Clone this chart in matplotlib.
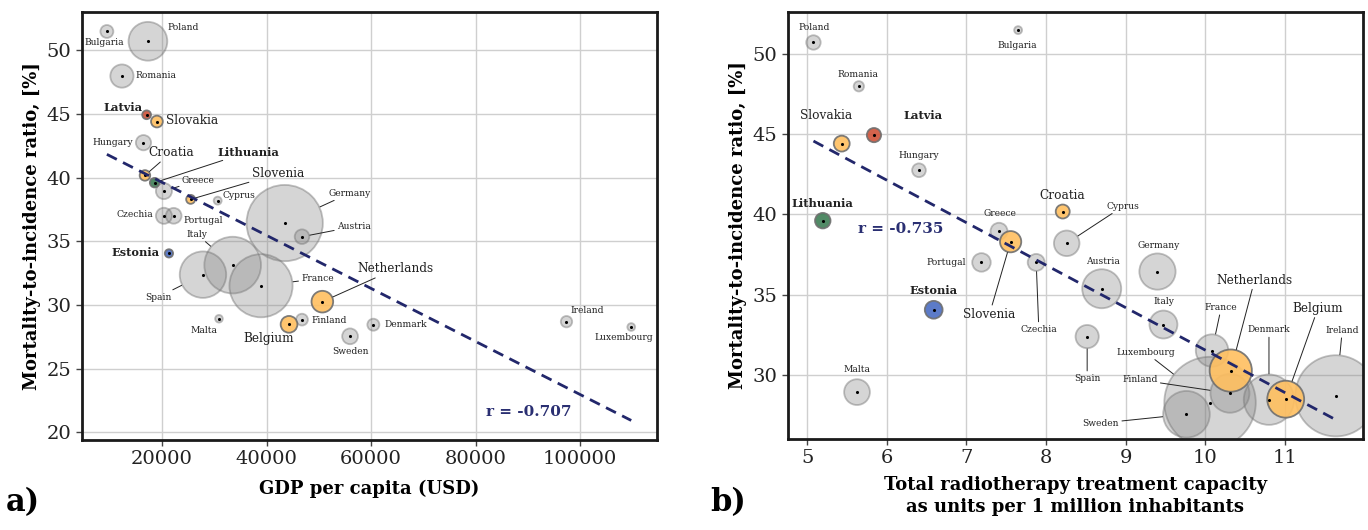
import numpy as np
import matplotlib.pyplot as plt

plt.rcParams['font.family'] = 'DejaVu Serif'

countries = ['Bulgaria', 'Poland', 'Romania', 'Latvia', 'Slovakia', 'Hungary', 'Croatia',
             'Lithuania', 'Greece', 'Slovenia', 'Cyprus', 'Czechia', 'Portugal', 'Germany',
             'Austria', 'Estonia', 'Italy', 'Spain', 'France', 'Netherlands', 'Malta',
             'Belgium', 'Finland', 'Denmark', 'Sweden', 'Ireland', 'Luxembourg']
gdp = [9470, 17320, 12350, 17070, 19040, 16470, 16750, 18600, 20380, 25490, 30660, 20380,
       22240, 43480, 46790, 21340, 33530, 27850, 38950, 50680, 30910, 44310, 46790, 60440,
       55980, 97380, 109760]
mir = [51.47, 50.7, 47.97, 44.93, 44.4, 42.74, 40.17, 39.6, 38.94, 38.29, 38.19, 37.0, 37.0,
       36.43, 35.36, 34.05, 33.13, 32.38, 31.51, 30.26, 28.92, 28.48, 28.85, 28.45, 27.54,
       28.69, 28.27]
rt_units = [7.65, 5.08, 5.65, 5.84, 5.435, 6.405, 8.21, 5.197, 7.41, 7.556, 8.26, 7.877, 7.19,
            9.40, 8.70, 6.59, 9.475, 8.517, 10.085, 10.32, 5.627, 11.01, 10.31, 10.80, 9.764,
            11.64, 10.06]
population = [6.9, 38.0, 19.3, 1.9, 5.5, 9.7, 4.0, 2.8, 10.7, 2.1, 0.9, 10.7, 10.3, 83.2, 8.9,
              1.3, 59.6, 47.3, 67.4, 17.4, 0.5, 11.5, 5.5, 5.8, 10.3, 5.0, 0.63]
r_values = ['r = -0.707', 'r = -0.735']

highlight = {'Latvia': '#cf5238', 'Lithuania': '#3e7d55', 'Estonia': '#4a6dc2',
             'Slovakia': '#ffbf5f', 'Croatia': '#ffbf5f', 'Slovenia': '#ffbf5f',
             'Netherlands': '#ffbf5f', 'Belgium': '#ffbf5f'}
baltic = ['Latvia', 'Lithuania', 'Estonia']

# label placement: country -> (x, y, leader line)
labels_a = {
    'Bulgaria': (9030, 50.61, False), 'Poland': (24080, 51.77, False),
    'Romania': (18810, 48.0, False), 'Latvia': (12470, 45.53, False),
    'Slovakia': (25780, 44.49, False), 'Hungary': (10620, 42.79, False),
    'Croatia': (21720, 41.95, True), 'Lithuania': (36460, 42.0, True),
    'Greece': (26950, 39.78, True), 'Slovenia': (42170, 40.3, True),
    'Cyprus': (34800, 38.6, False), 'Czechia': (14770, 37.11, False),
    'Portugal': (27980, 36.62, False), 'Germany': (55980, 38.78, True),
    'Austria': (56710, 36.15, True), 'Italy': (26700, 35.54, True),
    'Estonia': (14870, 34.15, False), 'Spain': (19300, 30.62, True),
    'France': (49760, 32.06, True), 'Netherlands': (64750, 32.85, True),
    'Malta': (28070, 27.98, False), 'Belgium': (40480, 27.35, False),
    'Finland': (52060, 28.79, False), 'Denmark': (66670, 28.48, False),
    'Sweden': (55980, 26.33, False), 'Ireland': (101280, 29.58, False),
    'Luxembourg': (108290, 27.43, False),
}
labels_b = {
    'Poland': (5.09, 51.62, False), 'Bulgaria': (7.64, 50.50, False),
    'Romania': (5.64, 48.73, False), 'Slovakia': (5.24, 46.16, False),
    'Latvia': (6.45, 46.16, False), 'Hungary': (6.405, 43.66, False),
    'Lithuania': (5.197, 40.67, False), 'Greece': (7.42, 40.05, False),
    'Portugal': (6.753, 37.0, False), 'Estonia': (6.585, 35.24, False),
    'Slovenia': (7.29, 33.77, True), 'Czechia': (7.91, 32.85, True),
    'Malta': (5.63, 30.31, False), 'Croatia': (8.21, 41.19, False),
    'Cyprus': (8.97, 40.5, True), 'Germany': (9.42, 38.08, False),
    'Austria': (8.72, 37.08, False), 'Italy': (9.475, 34.55, False),
    'Spain': (8.517, 29.79, True), 'France': (10.20, 34.18, True),
    'Netherlands': (10.62, 35.90, True), 'Denmark': (10.80, 32.79, True),
    'Belgium': (11.415, 34.14, True), 'Ireland': (11.72, 32.75, True),
    'Luxembourg': (9.25, 31.4, True), 'Finland': (9.18, 29.68, True),
    'Sweden': (8.69, 26.99, True),
}

fig = plt.figure(figsize=(13.68, 5.30), dpi=100)
ax1 = fig.add_axes([0.0599, 0.1698, 0.4204, 0.8076])
ax2 = fig.add_axes([0.576, 0.1717, 0.4203, 0.8057])

px2pt = 72 / 100
rad_a = (3.6 + 0.415 * np.array(population)) * px2pt
rad_b = np.array(gdp) / 2400 * px2pt


def bubbles(ax, x, y, rad, lab, r_txt, r_pos):
    x = np.array(x, dtype=float)
    y = np.array(y, dtype=float)
    is_hl = np.array([c in highlight for c in countries])
    ax.scatter(x[~is_hl], y[~is_hl], s=(2 * rad[~is_hl]) ** 2,
               facecolors=(0.5, 0.5, 0.5, 0.33), edgecolors=(0.45, 0.45, 0.45, 0.45),
               linewidths=1.3, zorder=2)
    cols = [highlight[c] for c in countries if c in highlight]
    ax.scatter(x[is_hl], y[is_hl], s=(2 * rad[is_hl]) ** 2, c=cols, alpha=0.9,
               edgecolors='#6f6f6f', linewidths=1.3, zorder=3)
    ax.scatter(x, y, s=1.5, c='black', zorder=4)

    for i, c in enumerate(countries):
        tx, ty, leader = lab[c]
        if c in baltic:
            kw = dict(fontsize=8.2, fontweight='bold')
        elif c in highlight:
            kw = dict(fontsize=8.7)
        else:
            kw = dict(fontsize=6.6)
        if leader:
            ax.annotate(c, xy=(x[i], y[i]), xytext=(tx, ty), ha='center', va='center',
                        color='#222222', zorder=5,
                        arrowprops=dict(arrowstyle='-', color='#222222', lw=0.7,
                                        shrinkA=0, shrinkB=rad[i] + 0.5), **kw)
        else:
            ax.text(tx, ty, c, ha='center', va='center', color='#222222', zorder=5, **kw)

    k, b = np.polyfit(x, y, 1)
    xs = np.array([x.min(), x.max()])
    ax.plot(xs, k * xs + b, color='#22276b', lw=2, linestyle=(0, (4, 2.5)), zorder=6)
    ax.text(r_pos[0], r_pos[1], r_txt, color='#2a2f72', fontsize=11, fontweight='bold',
            ha='center', va='center', zorder=6)

    ax.grid(True, color='#cfcfcf', lw=1)
    ax.set_axisbelow(True)
    for s in ax.spines.values():
        s.set_linewidth(2)
        s.set_color('#1a1a1a')
    ax.tick_params(labelsize=14, length=4, width=1, color='#444444', labelcolor='#222222')
    ax.set_ylabel('Mortality-to-incidence ratio, [%]', fontsize=13, fontweight='bold')


bubbles(ax1, gdp, mir, rad_a, labels_a, r_values[0], (90180, 21.6))
ax1.set_xlim(4700, 114700)
ax1.set_ylim(19.4, 53.0)
ax1.set_xticks([20000, 40000, 60000, 80000, 100000])
ax1.set_yticks([20, 25, 30, 35, 40, 45, 50])
ax1.set_xlabel('GDP per capita (USD)', fontsize=13, fontweight='bold', labelpad=8)

bubbles(ax2, rt_units, mir, rad_b, labels_b, r_values[1], (6.18, 39.07))
ax2.set_xlim(4.76, 11.98)
ax2.set_ylim(26.0, 52.6)
ax2.set_xticks([5, 6, 7, 8, 9, 10, 11])
ax2.set_yticks([30, 35, 40, 45, 50])
ax2.set_xlabel('Total radiotherapy treatment capacity\nas units per 1 million inhabitants',
               fontsize=13, fontweight='bold', linespacing=1.3, labelpad=6)

fig.text(0.004, 0.035, 'a)', fontsize=22, fontweight='bold')
fig.text(0.519, 0.035, 'b)', fontsize=22, fontweight='bold')

fig.savefig('out.png', dpi=100)
